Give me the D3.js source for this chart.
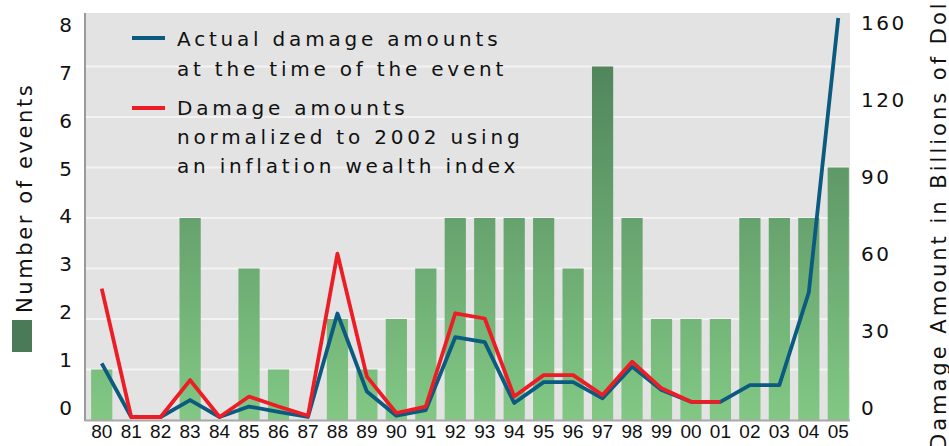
<!DOCTYPE html>
<html><head><meta charset="utf-8">
<script src="https://cdn.jsdelivr.net/npm/d3@7/dist/d3.min.js"></script>
<style>
html,body{margin:0;padding:0;background:#fff;overflow:hidden}
svg{display:block}
text{font-family:"DejaVu Sans",Verdana,sans-serif;fill:#111}
</style></head><body>
<svg id="chart" width="949" height="446"></svg>
<script>
const years = ["80","81","82","83","84","85","86","87","88","89","90","91","92","93","94","95","96","97","98","99","00","01","02","03","04","05"];
const eventCounts = [1,0,0,4,0,3,1,0,2,1,2,3,4,4,4,4,3,7,4,2,2,2,4,4,4,5];
const actualDamage = [21.5,0,0,6.8,0,4.2,2.1,0,41.5,10.2,0.5,2.8,32,30,5.6,14,14,7.5,20.2,10.8,6.1,6.1,12.8,12.8,50,160];
const normalizedDamage = [51.5,0,0,14.8,0,8.2,4.2,0.5,65.5,16.2,1.6,4.2,41.6,39.5,8.2,16.8,16.8,8.8,22.2,11.5,6.1,6.1,null,null,null,null];
const leftTicks = [0,1,2,3,4,5,6,7,8];
const rightTickLabels = ["0","30","60","90","120","160"];
const legendActual = ["Actual damage amounts","at the time of the event"];
const legendNormalized = ["Damage amounts","normalized to 2002 using","an inflation wealth index"];

const svg = d3.select("#chart");
const plot = {left:85, right:850, top:13, bottom:420};

const defs = svg.append("defs");
const grad = defs.append("linearGradient").attr("id","barGrad")
  .attr("gradientUnits","userSpaceOnUse").attr("x1",0).attr("x2",0).attr("y1",16).attr("y2",420);
grad.append("stop").attr("offset","0").attr("stop-color","#4a7c57");
grad.append("stop").attr("offset","1").attr("stop-color","#82c884");

const x = d3.scaleBand().domain(years).range([87,853]).paddingInner(0.28).paddingOuter(0.14);
const yCount = d3.scaleLinear().domain([0,8]).range([420,16]);
const yCountLabel = d3.scaleLinear().domain([0,8]).range([408,25]);
const yDmg = d3.scaleLinear().domain([0,160]).range([417,18]);
const yDmgLabel = d3.scalePoint().domain(rightTickLabels).range([408,23]);

// background
svg.append("rect").attr("x",plot.left).attr("y",plot.top)
  .attr("width",plot.right-plot.left).attr("height",plot.bottom-plot.top).attr("fill","#e3e3e3");

// grid
svg.append("g").selectAll("line").data(leftTicks.slice(1,8)).join("line")
  .attr("x1",plot.left).attr("x2",plot.right)
  .attr("y1",d=>yCount(d)).attr("y2",d=>yCount(d))
  .attr("stroke","#f3f3f3").attr("stroke-width",2);

// bars
svg.append("g").selectAll("rect").data(years).join("rect")
  .attr("x",(d)=>x(d)).attr("width",x.bandwidth())
  .attr("y",(d,i)=>yCount(eventCounts[i]))
  .attr("height",(d,i)=>yCount(0)-yCount(eventCounts[i]))
  .attr("fill","url(#barGrad)");

// axis lines
svg.append("line").attr("x1",plot.left).attr("x2",plot.left).attr("y1",plot.top).attr("y2",plot.bottom+1)
  .attr("stroke","#9a9a9a").attr("stroke-width",2);
svg.append("line").attr("x1",plot.left).attr("x2",plot.right).attr("y1",plot.bottom+0.5).attr("y2",plot.bottom+0.5)
  .attr("stroke","#a8a8a8").attr("stroke-width",2);

// lines
const lineGen = arr => d3.line()
  .defined((d,i)=>arr[i]!==null)
  .x((d)=>x(d)+x.bandwidth()/2)
  .y((d,i)=>yDmg(arr[i]));
svg.append("path").attr("d",lineGen(actualDamage)(years))
  .attr("fill","none").attr("stroke","#0b5a80").attr("stroke-width",3.8).attr("stroke-linejoin","round");
svg.append("path").attr("d",lineGen(normalizedDamage)(years))
  .attr("fill","none").attr("stroke","#ee1c25").attr("stroke-width",3.8).attr("stroke-linejoin","round");

// left axis labels
const leftAxis = d3.axisLeft(yCountLabel).tickValues(leftTicks).tickSize(0).tickPadding(0).tickFormat(d3.format("d"));
const gL = svg.append("g").attr("transform","translate(73,0)").call(leftAxis);
gL.select(".domain").remove();
gL.selectAll("text").attr("font-size",20).attr("letter-spacing",1).attr("fill","#111")
  .style("font-family","DejaVu Sans");

// right axis labels
const rightAxis = d3.axisRight(yDmgLabel).tickSize(0).tickPadding(0);
const gR = svg.append("g").attr("transform","translate(861,0)").call(rightAxis);
gR.select(".domain").remove();
gR.selectAll("text").attr("font-size",20).attr("letter-spacing",2.5).attr("fill","#111")
  .style("font-family","DejaVu Sans");

// x axis labels
const xAxis = d3.axisBottom(x).tickSize(0).tickPadding(0);
const gX = svg.append("g").attr("transform","translate(0,427)").call(xAxis);
gX.select(".domain").remove();
gX.selectAll("text").attr("font-size",19).attr("dy","0.6em").attr("fill","#222")
  .style("font-family","Liberation Sans, Arial");

// axis titles
svg.append("text").attr("transform","translate(32,313) rotate(-90)")
  .attr("font-size",21).attr("letter-spacing",2.6).text("Number of events");
svg.append("rect").attr("x",12).attr("y",320).attr("width",20).attr("height",32).attr("fill","#4a7a58");
svg.append("text").attr("transform","translate(946,450) rotate(-90)")
  .attr("font-size",21).attr("letter-spacing",3).text("Damage Amount in Billions of Dollars");

// legend
const leg = svg.append("g");
leg.append("line").attr("x1",132).attr("x2",165).attr("y1",38).attr("y2",38).attr("stroke","#0b5a80").attr("stroke-width",4);
leg.append("line").attr("x1",132).attr("x2",165).attr("y1",108).attr("y2",108).attr("stroke","#ee1c25").attr("stroke-width",4);
leg.append("g").selectAll("text").data(legendActual).join("text")
  .attr("x",177).attr("y",(d,i)=>46+i*30).attr("font-size",20).attr("letter-spacing",3.8).text(d=>d);
leg.append("g").selectAll("text").data(legendNormalized).join("text")
  .attr("x",177).attr("y",(d,i)=>115+i*29).attr("font-size",20).attr("letter-spacing",3.8).text(d=>d);
</script>
</body></html>
